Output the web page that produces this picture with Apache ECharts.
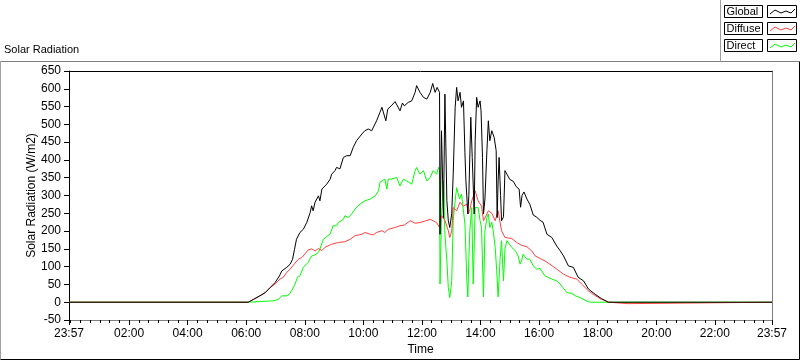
<!DOCTYPE html>
<html>
<head>
<meta charset="utf-8">
<script src="https://cdn.jsdelivr.net/npm/echarts@6/dist/echarts.min.js"></script>
<style>
html,body{margin:0;padding:0;background:#fff;}
#c{width:800px;height:361px;}
</style>
</head>
<body>
<div id="c"></div>
<script>
// Time in minutes since midnight (axis runs 23:57 -> 23:57 next day)
const globalTime = [-3,364,375,388,399,409,419,428,433,443,450,455,459,463,470,477,480,484,491,494,497,501,508,511,515,525,532,535,542,545,552,559,566,573,579,586,597,603,610,617,627,634,638,646,650,657,665,668,675,680,684,692,699,706,709,716,723,730,737,742,747,751,756,757,760,764,767,771,774,777,781,784,788,791,794,798,801,805,808,810,814,816,820,823,827,829,832,835,839,841,844,846,849,853,856,859,863,868,872,874,876,878,881,883,887,890,894,900,907,913,919,922,925,929,935,941,948,954,962,968,976,980,986,996,1003,1010,1020,1030,1040,1051,1061,1075,1088,1102,1437];
const globalValue = [0,0,8,18,27,41,55,74,88,98,107,121,149,177,196,205,201,224,252,271,257,281,299,285,318,332,346,360,370,379,375,407,412,412,435,454,473,482,487,482,510,534,548,510,543,552,564,566,538,560,552,562,566,590,609,590,576,571,590,615,590,604,590,191,482,238,585,285,229,210,250,360,548,604,566,590,548,566,420,341,248,300,520,407,248,454,576,548,566,538,407,248,290,426,510,454,482,463,426,238,341,407,300,229,240,370,360,345,340,325,318,267,300,310,290,275,245,240,230,225,191,195,182,158,145,130,102,98,70,60,37,22,10,0,0];

const diffuseTime = [-3,364,375,388,399,409,419,429,436,443,450,460,467,474,480,487,494,501,508,515,521,535,549,562,573,583,597,603,614,620,627,638,644,651,665,675,684,696,706,716,726,737,750,756,760,767,774,777,781,784,791,798,805,812,815,818,822,829,835,842,846,853,856,863,870,876,883,890,904,914,924,935,945,952,962,972,982,996,1010,1023,1037,1047,1061,1071,1085,1102,1105,1142,1146,1437];
const diffuseValue = [0,0,8,18,27,41,51,65,70,84,93,110,121,126,135,147,150,144,151,145,154,163,168,170,177,187,191,196,191,189,196,201,196,205,210,215,217,229,222,224,228,233,224,210,243,230,201,182,200,266,257,281,270,276,248,260,285,313,285,270,229,248,257,250,229,257,201,182,179,168,160,156,144,130,123,116,107,93,79,70,65,51,32,22,10,0,-4,-4,0,0];

const directTime = [-3,364,416,426,433,443,448,453,460,465,470,477,480,487,494,501,508,511,518,521,532,538,545,549,559,562,569,576,583,593,603,614,624,631,634,644,648,651,658,668,675,682,689,699,706,709,716,723,730,737,743,750,754,756,757,760,764,767,771,774,777,781,784,788,791,797,801,808,812,814,816,818,822,825,829,835,839,842,846,849,853,856,859,863,866,870,873,876,880,883,887,890,894,898,904,911,917,921,924,927,935,941,948,955,962,972,986,996,1003,1017,1027,1034,1044,1061,1068,1437];
const directValue = [0,0,4,8,18,18,22,32,51,70,74,98,95,112,130,133,140,149,177,180,192,215,215,224,233,243,238,248,262,276,285,290,299,313,337,346,318,346,346,351,327,346,341,332,370,379,360,370,341,351,370,360,379,370,51,238,341,191,116,41,13,60,229,285,322,290,304,220,60,15,120,200,266,51,266,266,230,210,15,200,238,248,210,225,200,154,90,15,120,173,60,150,173,165,154,145,130,107,116,135,121,121,102,93,95,74,65,60,51,27,25,18,13,1,0,0];

const seriesNames = ['Global','Diffuse','Direct'];
const seriesColors = ['#000000','#ff4040','#00ff00'];

const yTicks = {min:-50, max:650, step:50};
const xLabelTicks = [-3,120,240,360,480,600,720,840,960,1080,1200,1320,1437];
const xMajorTicks = [-3,120,240,360,480,600,720,840,960,1080,1200,1320,1437];
const xMinorTicks = [-3];
for (let m = 0; m <= 1420; m += 20) xMinorTicks.push(m);
xMinorTicks.push(1437);

function pairs(t, v){ return t.map((x,i)=>[x, v[i]]); }
function fmt(v){
  const m = ((Math.round(v) % 1440) + 1440) % 1440;
  const h = Math.floor(m/60), mm = m % 60;
  return String(h).padStart(2,'0') + ':' + String(mm).padStart(2,'0');
}

const FONT = 'Liberation Sans';
const chart = echarts.init(document.getElementById('c'));

const legendRows = [5.5, 22.5, 39.5];
const graphics = [
  {type:'line', shape:{x1:0.5,y1:61.5,x2:799.5,y2:61.5}, style:{stroke:'#808080',lineWidth:1}, silent:true},
  {type:'line', shape:{x1:0.5,y1:61.5,x2:0.5,y2:359.5}, style:{stroke:'#a0a0a0',lineWidth:1}, silent:true},
  {type:'line', shape:{x1:0.5,y1:359.5,x2:799.5,y2:359.5}, style:{stroke:'#000',lineWidth:1}, silent:true},
  {type:'line', shape:{x1:799.5,y1:61.5,x2:799.5,y2:359.5}, style:{stroke:'#000',lineWidth:1}, silent:true},
  {type:'line', shape:{x1:720.5,y1:0,x2:720.5,y2:61.5}, style:{stroke:'#a0a0a0',lineWidth:1}, silent:true}
];
seriesNames.forEach((n,i)=>{
  const y = legendRows[i];
  graphics.push({type:'rect', shape:{x:724.5,y:y,width:38,height:12}, style:{fill:'#fff',stroke:'#000',lineWidth:1}, silent:true});
  graphics.push({type:'text', x:726.5, y:y+6.5, style:{text:n, fill:'#000', font:'11px "'+FONT+'"', textVerticalAlign:'middle'}, silent:true});
  graphics.push({type:'rect', shape:{x:767.5,y:y,width:29,height:12}, style:{fill:'#fff',stroke:'#000',lineWidth:1}, silent:true});
  graphics.push({type:'polyline', shape:{points:[[770,y+8.5],[775,y+4.5],[781,y+7.5],[786,y+5.5],[791,y+7.5],[795,y+3.5]]}, style:{stroke:seriesColors[i],lineWidth:1,fill:null}, silent:true});
});

const option = {
  animation:false,
  backgroundColor:'#ffffff',
  textStyle:{fontFamily:FONT},
  title:{text:'Solar Radiation', left:4, top:44, padding:0, textStyle:{fontSize:11, fontWeight:'normal', color:'#000', fontFamily:FONT}},
  grid:{left:69, top:71, width:703, height:250, show:false},
  xAxis:[
    {type:'value', gridIndex:0, min:-3, max:1437, position:'bottom',
     axisLine:{show:true, onZero:false, lineStyle:{color:'#808080'}},
     axisTick:{show:true, customValues:xMajorTicks, length:5, lineStyle:{color:'#000'}},
     axisLabel:{show:true, customValues:xLabelTicks, formatter:fmt, fontSize:12, color:'#000', margin:8, fontFamily:FONT},
     splitLine:{show:false},
     name:'Time', nameLocation:'middle', nameGap:24, nameMoveOverlap:false, nameTextStyle:{fontSize:12, color:'#000', fontFamily:FONT}},
    {type:'value', gridIndex:0, min:-3, max:1437, position:'bottom', offset:0,
     axisLine:{show:false, onZero:false},
     axisTick:{show:true, customValues:xMinorTicks, length:3, lineStyle:{color:'#000'}},
     axisLabel:{show:false}, splitLine:{show:false}},
    {type:'value', gridIndex:0, min:-3, max:1437, position:'top', offset:0,
     axisLine:{show:true, onZero:false, lineStyle:{color:'#000'}},
     axisTick:{show:false}, axisLabel:{show:false}, splitLine:{show:false}}
  ],
  yAxis:[
    {type:'value', gridIndex:0, min:yTicks.min, max:yTicks.max, interval:yTicks.step, position:'left',
     axisLine:{show:true, onZero:false, lineStyle:{color:'#000'}},
     axisTick:{show:true, length:5, lineStyle:{color:'#000'}},
     axisLabel:{fontSize:12, color:'#000', margin:8, fontFamily:FONT},
     splitLine:{show:false},
     name:'Solar Radiation (W/m2)', nameLocation:'middle', nameGap:31, nameMoveOverlap:false, nameTextStyle:{fontSize:12, color:'#000', fontFamily:FONT}},
    {type:'value', gridIndex:0, min:yTicks.min, max:yTicks.max, interval:yTicks.step, position:'right',
     axisLine:{show:true, onZero:false, lineStyle:{color:'#808080'}},
     axisTick:{show:false}, axisLabel:{show:false}, splitLine:{show:false}}
  ],
  graphic:graphics,
  series:[
    {name:seriesNames[2], type:'line', z:2, xAxisIndex:0, yAxisIndex:0, data:pairs(directTime, directValue), showSymbol:false, symbol:'none', lineStyle:{color:seriesColors[2], width:1}, itemStyle:{color:seriesColors[2]}},
    {name:seriesNames[1], type:'line', z:3, xAxisIndex:0, yAxisIndex:0, data:pairs(diffuseTime, diffuseValue), showSymbol:false, symbol:'none', lineStyle:{color:seriesColors[1], width:1}, itemStyle:{color:seriesColors[1]}},
    {name:seriesNames[0], type:'line', z:4, xAxisIndex:0, yAxisIndex:0, data:pairs(globalTime, globalValue), showSymbol:false, symbol:'none', lineStyle:{color:seriesColors[0], width:1}, itemStyle:{color:seriesColors[0]}}
  ]
};
chart.setOption(option);
</script>
</body>
</html>
